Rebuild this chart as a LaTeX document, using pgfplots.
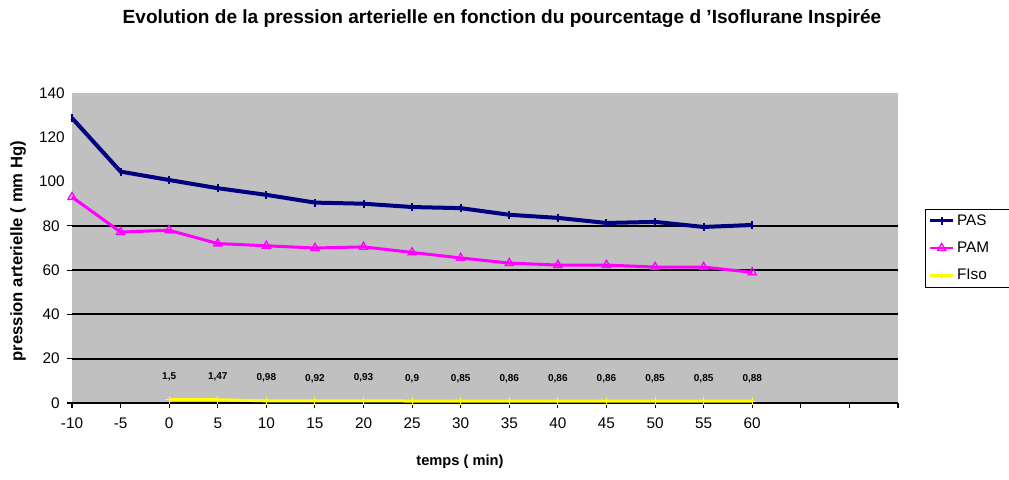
\documentclass[border=0pt]{standalone}
\usepackage{fontspec}
\setmainfont{Liberation Sans}
\usepackage{pgfplots}
\pgfplotsset{compat=1.18}

\definecolor{plotgray}{HTML}{C0C0C0}
\definecolor{pasblue}{HTML}{000080}
\definecolor{pammag}{HTML}{FF00FF}
\definecolor{isoyel}{HTML}{FFFF00}

\begin{document}
\begin{tikzpicture}
% page frame: axis box is 619.5pt x 232.5pt at the origin
\path[use as bounding box] (-54pt,-57pt) rectangle (702.75pt,302.25pt);
\begin{axis}[
    scale only axis,
    width=619.5pt,
    height=232.5pt,
    xmin=-10, xmax=75,
    ymin=0, ymax=140,
    axis background/.style={fill=plotgray},
    axis line style={draw=none},
    /pgf/number format/assume math mode=true,
    font=\fontsize{11.5}{13}\selectfont,
    title={\bfseries Evolution de la pression arterielle en fonction du pourcentage d 'Isoflurane Inspirée},
    title style={at={(axis description cs:0.5,1)}, anchor=center, yshift=49.5pt, xshift=12.75pt,
        font=\fontsize{14.3}{16}\selectfont},
    xlabel={temps ( min)},
    ylabel={pression arterielle ( mm Hg)},
    xlabel style={at={(axis description cs:0.4697,0)}, anchor=center, yshift=-44.25pt,
        font=\fontsize{11}{13}\selectfont\bfseries},
    ylabel style={at={(axis description cs:-0.0654,0.49)}, anchor=center,
        font=\fontsize{12.5}{14}\selectfont\bfseries},
    xtick={-10,-5,...,75},
    xticklabels={-10,-5,0,5,10,15,20,25,30,35,40,45,50,55,60,,,},
    ytick={0,20,40,60,80},
    extra y ticks={100,120,140},
    extra y tick style={major tick length=0pt, grid=none},
    tick pos=left,
    tick align=outside,
    major tick length=3.75pt,
    tick style={black, line width=0.8pt},
    ymajorgrids,
    major grid style={black, line width=1.5pt},
    xticklabel style={yshift=-4pt},
    yticklabel style={xshift=-2pt},
    legend style={at={(1,0.5)}, anchor=west, xshift=20pt, draw=black, fill=white,
        font=\fontsize{11.5}{13}\selectfont, row sep=7pt,
        nodes={text width=45pt}},
    legend cell align=left,
    legend image post style={line width=2pt},
    clip=false,
]

\addplot[color=pasblue, line width=3pt, mark=|, mark size=3pt,
    mark options={line width=1.5pt}] coordinates {
    (-10,128.7) (-5,104.5) (0,100.7) (5,97) (10,94) (15,90.5) (20,90)
    (25,88.5) (30,88) (35,85) (40,83.6) (45,81.3) (50,81.8) (55,79.5) (60,80.4)
};
\addlegendentry{PAS}

\addplot[color=pammag, line width=2.25pt, mark=triangle, mark size=3.5pt,
    mark options={line width=1pt}] coordinates {
    (-10,93) (-5,77.2) (0,78) (5,72) (10,71) (15,70) (20,70.5)
    (25,68) (30,65.5) (35,63.2) (40,62.3) (45,62.3) (50,61.4) (55,61.4) (60,59)
};
\addlegendentry{PAM}

\addplot[color=isoyel, line width=2.25pt, mark=+, mark size=3pt,
    mark options={line width=0.8pt},
    nodes near coords, point meta=explicit symbolic,
    every node near coord/.append style={black, anchor=center, yshift=17pt,
        font=\fontsize{7.5}{8}\selectfont\bfseries}] table[meta=lab] {
x y lab
0 1.5 1,5
5 1.47 1,47
10 0.98 0,98
15 0.92 0,92
20 0.93 0,93
25 0.9 0,9
30 0.85 0,85
35 0.86 0,86
40 0.86 0,86
45 0.86 0,86
50 0.85 0,85
55 0.85 0,85
60 0.88 0,88
};
\addlegendentry{FIso}

\end{axis}
\end{tikzpicture}
\end{document}
